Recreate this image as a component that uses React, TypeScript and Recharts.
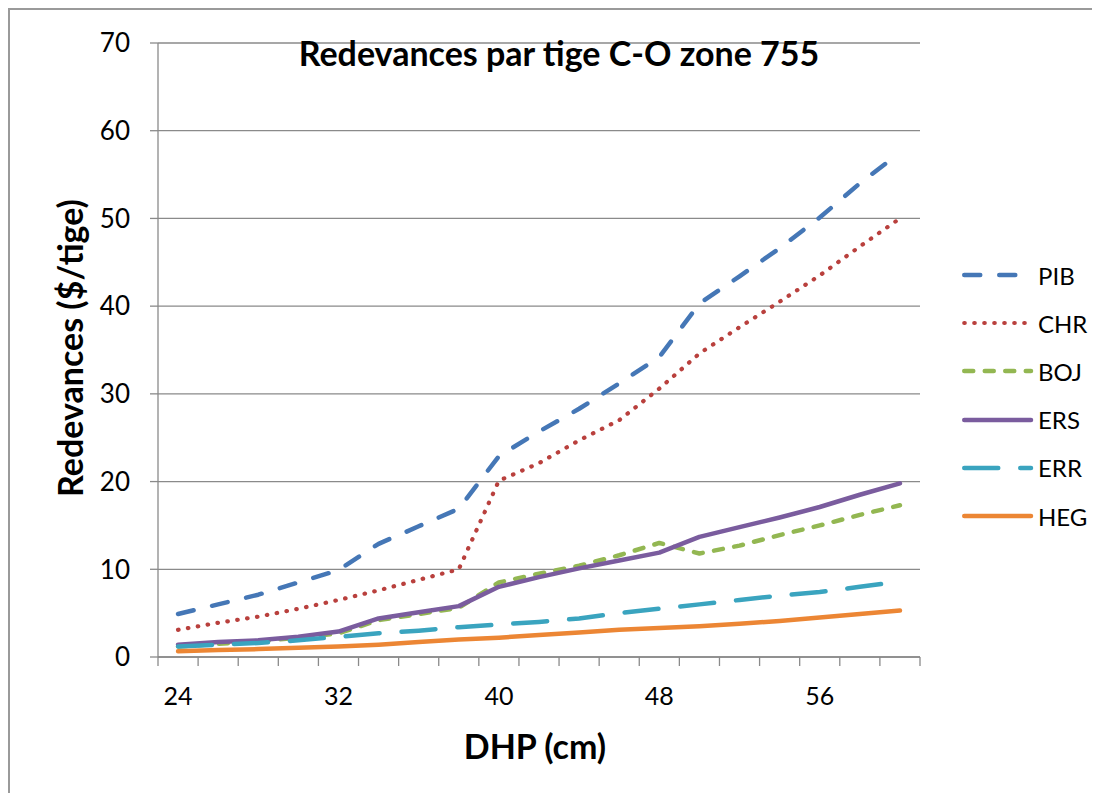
import React from "react";
import { LineChart, Line, XAxis, YAxis, CartesianGrid, Label } from "recharts";

const CATEGORIES = [24, 26, 28, 30, 32, 34, 36, 38, 40, 42, 44, 46, 48, 50, 52, 54, 56, 58, 60];
const LABEL_TICKS = [24, 32, 40, 48, 56];
const Y_TICKS = [0, 10, 20, 30, 40, 50, 60, 70];

const PIB = [4.9, 6.0, 7.1, 8.5, 9.9, 12.9, 14.9, 16.9, 22.9, 25.7, 28.3, 31.2, 34.2, 40.3, 43.4, 46.6, 50.1, 54.0, 57.5];
const CHR = [3.1, 3.9, 4.6, 5.5, 6.5, 7.6, 8.8, 10.0, 20.1, 22.1, 24.7, 27.0, 30.6, 34.6, 37.6, 40.5, 43.5, 46.8, 50.0];
const BOJ = [1.2, 1.5, 1.8, 2.2, 2.7, 4.2, 4.9, 5.6, 8.5, 9.5, 10.4, 11.6, 13.0, 11.8, 12.7, 13.9, 15.0, 16.2, 17.3];
const ERS = [1.4, 1.7, 1.9, 2.3, 2.9, 4.4, 5.1, 5.8, 8.0, 9.1, 10.1, 11.0, 11.9, 13.7, 14.8, 15.9, 17.1, 18.5, 19.8];
const ERR = [1.2, 1.4, 1.6, 1.9, 2.3, 2.7, 3.0, 3.4, 3.7, 4.0, 4.4, 5.0, 5.5, 6.0, 6.5, 7.0, 7.4, 8.0, 8.6];
const HEG = [0.65, 0.8, 0.9, 1.05, 1.2, 1.4, 1.7, 2.0, 2.2, 2.5, 2.8, 3.1, 3.3, 3.5, 3.8, 4.1, 4.5, 4.9, 5.3];

const SERIES = [
  { key: "PIB", values: PIB, color: "#4577B6", dash: "16 19", width: 4.5 },
  { key: "CHR", values: CHR, color: "#B9403D", dash: "0.5 9.5", width: 4.2 },
  { key: "BOJ", values: BOJ, color: "#93B752", dash: "9 11.5", width: 4.5 },
  { key: "ERS", values: ERS, color: "#7A5C9E", dash: undefined, width: 4.5 },
  { key: "ERR", values: ERR, color: "#3AA4BF", dash: "34 22", width: 4.5 },
  { key: "HEG", values: HEG, color: "#EC8634", dash: undefined, width: 4.5 },
];

const data = CATEGORIES.map((c, i) => {
  const row: any = { dhp: c };
  SERIES.forEach((s) => (row[s.key] = s.values[i]));
  return row;
});

const BOUNDARY_TICKS = [CATEGORIES[0] - 1, ...CATEGORIES.map((c) => c + 1)];
const ALL_X_TICKS = [...BOUNDARY_TICKS, ...LABEL_TICKS].sort((a, b) => a - b);

const FONT = "Lato, 'Noto Sans', sans-serif";
const GRAY = "#8a8a8a";

const XTick = (props: any) => {
  const { x, y, payload } = props;
  const v = payload.value;
  if (LABEL_TICKS.includes(v)) {
    return (
      <text x={x} y={y + 38} textAnchor="middle" dominantBaseline="central" fontSize={25} fill="#000" fontFamily={FONT}>
        {v}
      </text>
    );
  }
  return <line x1={x} x2={x} y1={y} y2={y + 9} stroke={GRAY} strokeWidth={1.3} />;
};

export default function App() {
  return (
    <div style={{ position: "relative", width: 1092, height: 785, fontFamily: FONT }}>
      <div style={{ position: "absolute", left: 0, top: 0, width: 1100, height: 800, borderLeft: "2px solid #9a9a9a", borderTop: "2px solid #9a9a9a" }} />
      <div style={{ position: "absolute", left: 0, top: 0 }}>
        <LineChart width={1092} height={785} data={data} margin={{ top: 35, right: 180, left: 0, bottom: 76 }}>
          <CartesianGrid vertical={false} stroke={GRAY} strokeWidth={1.3} />
          <XAxis
            dataKey="dhp"
            type="number"
            domain={[CATEGORIES[0] - 1, CATEGORIES[CATEGORIES.length - 1] + 1]}
            ticks={ALL_X_TICKS}
            interval={0}
            tick={<XTick />}
            tickLine={false}
            tickSize={0}
            tickMargin={0}
            height={60}
            axisLine={{ stroke: GRAY, strokeWidth: 1.3 }}
          >
            <Label
              content={(p: any) => {
                const vb = p.viewBox;
                return (
                  <text x={vb.x + vb.width / 2 - 4} y={vb.y + 88} textAnchor="middle" dominantBaseline="central" fontSize={34} fontWeight="bold" fontFamily={FONT} fill="#000">
                    DHP (cm)
                  </text>
                );
              }}
            />
          </XAxis>
          <YAxis
            type="number"
            domain={[0, 70]}
            ticks={Y_TICKS}
            interval={0}
            width={150}
            tickSize={8}
            tickMargin={20}
            tickLine={{ stroke: GRAY, strokeWidth: 1.3 }}
            axisLine={{ stroke: GRAY, strokeWidth: 1.3 }}
            tick={{ fontSize: 26, fill: "#000", fontFamily: FONT }}
          >
            <Label
              content={(p: any) => {
                const vb = p.viewBox;
                const cx = vb.x + 61;
                const cy = vb.y + vb.height / 2 - 2;
                return (
                  <text x={cx} y={cy} transform={`rotate(-90 ${cx} ${cy})`} textAnchor="middle" dominantBaseline="central" fontSize={34} fontWeight="bold" fontFamily={FONT} fill="#000">
                    Redevances ($/tige)
                  </text>
                );
              }}
            />
          </YAxis>
          {SERIES.map((s) => (
            <Line
              key={s.key}
              dataKey={s.key}
              stroke={s.color}
              strokeWidth={s.width}
              strokeDasharray={s.dash}
              strokeLinecap="round"
              strokeLinejoin="round"
              dot={false}
              activeDot={false}
              isAnimationActive={false}
            />
          ))}
        </LineChart>
      </div>
      <div style={{ position: "absolute", left: 0, width: 1102, top: 25, textAlign: "center", fontSize: 34, fontWeight: "bold", color: "#000", lineHeight: "40px", whiteSpace: "nowrap" }}>
        Redevances par tige C-O zone 755
      </div>
      {SERIES.map((s, i) => (
        <div key={s.key} style={{ position: "absolute", left: 952, top: 275 - 8 + i * 48.2 - 16, height: 32, display: "flex", alignItems: "center" }}>
          <svg width={78} height={12} style={{ display: "block" }}>
            <line x1={4.25} x2={71} y1={6} y2={6} stroke={s.color} strokeWidth={s.width} strokeDasharray={s.dash} strokeLinecap="round" />
          </svg>
          <span style={{ fontSize: 24, color: "#000", marginLeft: 0 }}>{s.key}</span>
        </div>
      ))}
    </div>
  );
}
